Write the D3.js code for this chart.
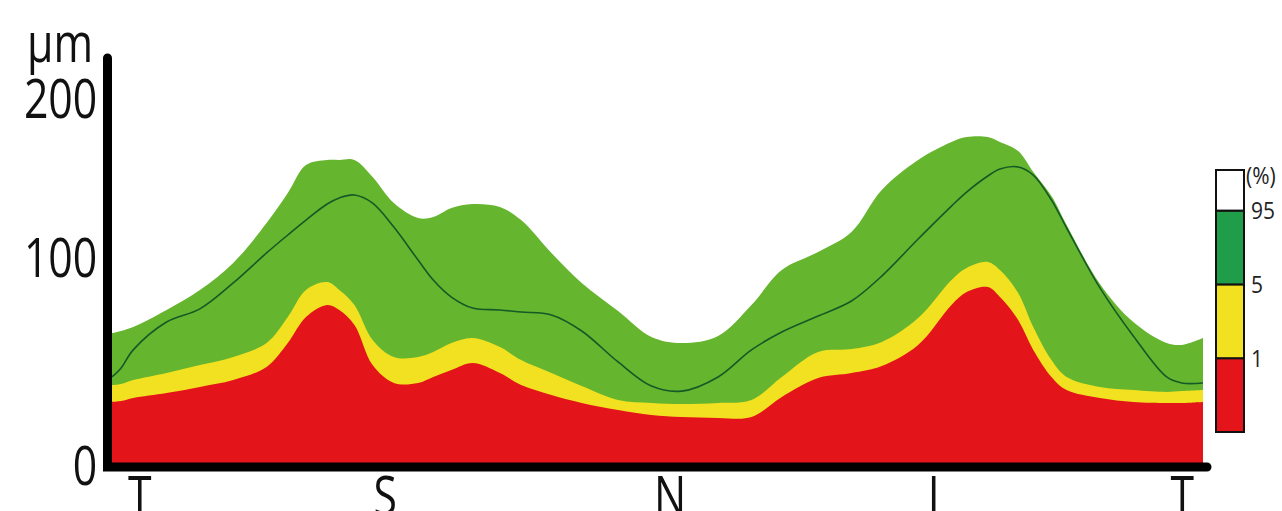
<!DOCTYPE html>
<html>
<head>
<meta charset="utf-8">
<script src="https://cdn.jsdelivr.net/npm/d3@7"></script>
<style>
  html, body { margin: 0; padding: 0; background: #ffffff; }
  svg { display: block; }
  .lbl { font-family: "Open Sans", "Noto Sans", "DejaVu Sans", sans-serif; }
</style>
</head>
<body>
<svg id="chart" width="1282" height="511"></svg>
<script>
// Position along the TSNIT scan (degrees)
const angles = [0, 3, 7, 18, 29, 40, 51, 58, 64, 71, 75, 80, 86, 93, 101, 106, 112, 119, 128, 135, 145,
  155, 167, 178, 188, 200, 211, 221, 233, 244, 254, 266, 277, 282, 289, 293, 299, 304, 310, 315, 326,
  337, 348, 353, 360];

// 95th percentile (top of green band), µm
const p95 = [64.4, 65.4, 67.3, 75.5, 85.1, 98.1, 122.6, 141.5, 159.1, 162.3, 162.3, 162.3, 151.6, 135.2, 125.8, 126.4, 132.1, 134.6, 132.7, 124.5, 103.8,
  88.5, 75.0, 62.5, 59.6, 63.0, 77.9, 94.7, 104.4, 117.0, 143.4, 162.3, 173.6, 176.7, 176.7, 173.6, 167.9, 154.7, 139.6, 121.4, 88.0,
  69.7, 59.6, 58.7, 62.0];

// 5th percentile (top of yellow band), µm
const p5 = [39.4, 39.9, 41.8, 45.2, 49.0, 52.9, 59.6, 72.1, 85.1, 88.9, 85.1, 77.9, 61.1, 52.9, 52.9, 55.3, 59.6, 62.0, 57.7, 51.4, 45.2,
  38.9, 32.2, 30.8, 30.3, 30.8, 32.2, 43.3, 55.3, 56.7, 60.1, 71.6, 89.9, 95.7, 98.6, 94.7, 83.7, 67.3, 51.4, 43.3, 38.5,
  37.0, 36.1, 36.5, 37.0];

// 1st percentile (top of red band), µm
const p1 = [31.3, 31.7, 33.2, 35.6, 38.5, 41.8, 48.1, 59.6, 72.1, 77.9, 75.5, 68.3, 49.0, 40.4, 40.4, 43.3, 46.6, 50.0, 45.2, 39.4, 34.6,
  30.8, 27.4, 25.0, 24.0, 23.6, 24.0, 33.7, 42.8, 45.2, 48.6, 58.7, 77.9, 84.1, 86.5, 81.7, 70.7, 56.3, 43.3, 37.0, 33.2,
  31.3, 30.8, 30.8, 31.3];

// Measured RNFL thickness, µm
const measured = [43.3, 47.6, 56.3, 69.7, 76.0, 88.5, 103.8, 115.1, 124.5, 134.6, 138.4, 140.3, 135.2, 120.1, 99.5, 89.9, 81.7, 76.4, 75.5, 74.5, 73.1,
  65.4, 50.5, 38.9, 36.5, 43.3, 56.3, 64.9, 72.6, 79.8, 91.8, 112.6, 133.3, 142.1, 152.2, 156.6, 157.9, 152.8, 137.1, 119.5, 86.1,
  63.0, 43.3, 40.4, 40.4];

const yTicks = [0, 100, 200];
const xTickAngles = [9, 90, 184, 271, 353];
const xTickLabels = ["T", "S", "N", "I", "T"];

const legendBands = [
  { name: "<1",   from: 0, to: 1,    color: "#e3151b" },
  { name: "1-5",  from: 1, to: 2,    color: "#f1e120" },
  { name: "5-95", from: 2, to: 3,    color: "#1f9d48" },
  { name: ">95",  from: 3, to: 3.55, color: "#ffffff" }
];
const legendLabels = [
  { text: "1", at: 1 }, { text: "5", at: 2 }, { text: "95", at: 3 }, { text: "(%)", at: 3.48 }
];

const colors = { red: "#e3151b", yellow: "#f1e120", green: "#66b52f", line: "#135a26" };

const svg = d3.select("#chart");
const x = d3.scaleLinear().domain([0, 360]).range([112, 1203]);
const y = d3.scaleLinear().domain([0, 100, 200]).range([467, 259, 100]);

const rows = angles.map((a, i) => ({ a, p95: p95[i], p5: p5[i], p1: p1[i], m: measured[i] }));
const curve = d3.curveCatmullRom.alpha(0.5);
const area = key => d3.area().x(d => x(d.a)).y0(y(0)).y1(d => y(d[key])).curve(curve);

svg.append("path").datum(rows).attr("d", area("p95")).attr("fill", colors.green);
svg.append("path").datum(rows).attr("d", area("p5")).attr("fill", colors.yellow);
svg.append("path").datum(rows).attr("d", area("p1")).attr("fill", colors.red);

svg.append("path").datum(rows)
  .attr("d", d3.line().x(d => x(d.a)).y(d => y(d.m)).curve(curve))
  .attr("fill", "none").attr("stroke", colors.line).attr("stroke-width", 1.6);

// Axis lines
const x0 = x(0) - 4.5;
svg.append("path")
  .attr("d", `M${x0},${y(200) - 42} L${x0},${y(0)} L${x(360) + 4},${y(0)}`)
  .attr("fill", "none").attr("stroke", "#000").attr("stroke-width", 9)
  .attr("stroke-linecap", "round").attr("stroke-linejoin", "miter");

const stretch = "scale(0.93,1.2)";

// Y tick labels
const yAxis = svg.append("g").attr("transform", `translate(${x0},0)`)
  .call(d3.axisLeft(y).tickValues(yTicks).tickSize(0).tickPadding(11).tickFormat(d3.format("d")));
yAxis.select(".domain").remove();
yAxis.selectAll("text").attr("class", "lbl").attr("font-size", 46).attr("fill", "#111")
  .attr("transform", stretch);

// Unit label
svg.append("text").attr("class", "lbl")
  .attr("transform", `translate(60,${y(200) - 38}) ${stretch}`)
  .attr("text-anchor", "middle").attr("font-size", 46).attr("fill", "#111").text("µm");

// X tick labels
const xAxis = svg.append("g").attr("transform", `translate(0,${y(0) + 8})`)
  .call(d3.axisBottom(x).tickValues(xTickAngles).tickSize(0).tickPadding(0)
    .tickFormat((d, i) => xTickLabels[i]));
xAxis.select(".domain").remove();
xAxis.selectAll("text").attr("class", "lbl").attr("font-size", 46).attr("fill", "#111")
  .attr("dy", "0.72em").attr("transform", stretch);

// Legend
const ly = d3.scaleLinear().domain([0, 3.55]).range([432, 170]);
const lg = svg.append("g");
lg.selectAll("rect").data(legendBands).join("rect")
  .attr("x", 1216).attr("width", 28)
  .attr("y", d => ly(d.to)).attr("height", d => ly(d.from) - ly(d.to))
  .attr("fill", d => d.color).attr("stroke", "#111").attr("stroke-width", 2);
lg.selectAll("text").data(legendLabels).join("text")
  .attr("class", "lbl")
  .attr("transform", d => `translate(${d.text === "(%)" ? 1246 : 1251},${ly(d.at)}) scale(1,1.15)`)
  .attr("dy", "0.36em")
  .attr("font-size", 21).attr("fill", "#222").text(d => d.text);
</script>
</body>
</html>
